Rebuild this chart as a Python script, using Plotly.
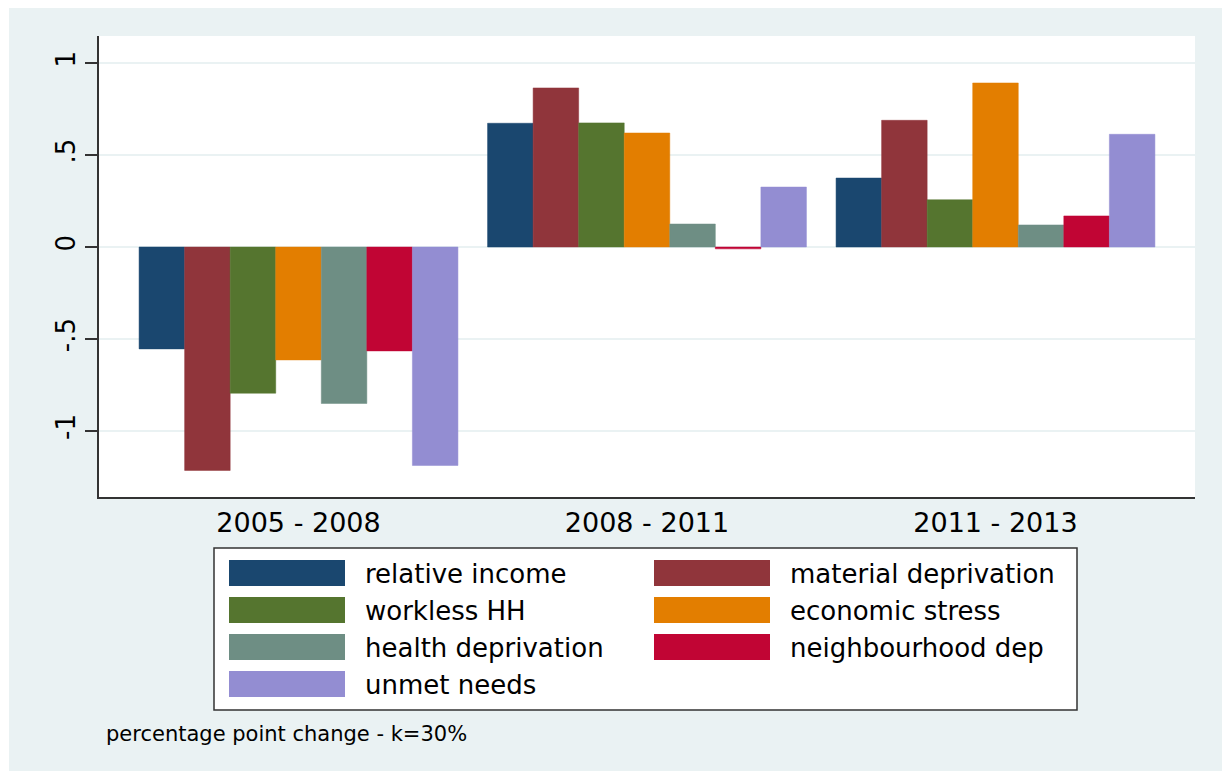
import plotly.graph_objects as go

##############################################
# Data
##############################################

periods = ["2005 - 2008", "2008 - 2011", "2011 - 2013"]

series_names = [
    "relative income",
    "material deprivation",
    "workless HH",
    "economic stress",
    "health deprivation",
    "neighbourhood dep",
    "unmet needs",
]

relative_income = [-0.554, 0.673, 0.375]
material_deprivation = [-1.215, 0.865, 0.689]
workless_hh = [-0.795, 0.675, 0.257]
economic_stress = [-0.614, 0.620, 0.892]
health_deprivation = [-0.851, 0.125, 0.120]
neighbourhood_dep = [-0.565, -0.010, 0.169]
unmet_needs = [-1.188, 0.326, 0.613]

series_values = [
    relative_income,
    material_deprivation,
    workless_hh,
    economic_stress,
    health_deprivation,
    neighbourhood_dep,
    unmet_needs,
]

y_tickvals = [-1, -0.5, 0, 0.5, 1]
y_ticktext = ["-1", "-.5", "0", ".5", "1"]

note_text = "percentage point change - k=30%"

##############################################
# Style
##############################################

colors = ["#1a476f", "#90353b", "#55752f", "#e37e00",
          "#6e8e84", "#c10534", "#938dd2"]

BG = "#eaf2f3"
AXIS = "#333333"
FONT = "DejaVu Sans"

W, H = 1222, 771
L, R, T, B = 99, 27, 36, 274
PW, PH = W - L - R, H - T - B


def px2x(px):
    return (px - L) / PW


def px2y(py):
    return 1 - (py - T) / PH


##############################################
# Figure
##############################################

fig = go.Figure()

for name, vals, col in zip(series_names, series_values, colors):
    fig.add_trace(
        go.Bar(
            x=periods,
            y=vals,
            name=name,
            marker=dict(color=col, line=dict(color=col, width=0.5)),
            showlegend=False,
        )
    )

shapes = []
annotations = []

# white strips at top and left of the image
shapes.append(dict(type="rect", xref="paper", yref="paper",
                   x0=px2x(0), x1=px2x(W), y0=px2y(0), y1=px2y(8),
                   fillcolor="white", line=dict(width=0), layer="below"))
shapes.append(dict(type="rect", xref="paper", yref="paper",
                   x0=px2x(0), x1=px2x(9), y0=px2y(0), y1=px2y(H),
                   fillcolor="white", line=dict(width=0), layer="below"))

# legend box
shapes.append(dict(type="rect", xref="paper", yref="paper",
                   x0=px2x(214), x1=px2x(1077), y0=px2y(548), y1=px2y(710),
                   fillcolor="white", line=dict(color=AXIS, width=1.5)))

col_swatch = [229, 654]
col_text = [363, 788]
row_top = [560, 597, 634, 671]
sw_w, sw_h = 116, 26

for i, (name, col) in enumerate(zip(series_names, colors)):
    r, c = divmod(i, 2)
    x0 = col_swatch[c]
    y0 = row_top[r]
    shapes.append(dict(type="rect", xref="paper", yref="paper",
                       x0=px2x(x0), x1=px2x(x0 + sw_w),
                       y0=px2y(y0), y1=px2y(y0 + sw_h),
                       fillcolor=col, line=dict(width=0)))
    annotations.append(dict(xref="paper", yref="paper",
                            x=px2x(col_text[c]), y=px2y(y0 + sw_h / 2 + 1),
                            xanchor="left", yanchor="middle",
                            text=name, showarrow=False,
                            font=dict(family=FONT, size=26, color="black")))

annotations.append(dict(xref="paper", yref="paper",
                        x=px2x(104), y=px2y(734),
                        xanchor="left", yanchor="middle",
                        text=note_text, showarrow=False,
                        font=dict(family=FONT, size=21, color="black")))

fig.update_layout(
    width=W,
    height=H,
    margin=dict(l=L, r=R, t=T, b=B, pad=0),
    paper_bgcolor=BG,
    plot_bgcolor="white",
    barmode="group",
    bargap=0.085,
    bargroupgap=0,
    showlegend=False,
    shapes=shapes,
    annotations=annotations,
    font=dict(family=FONT, color="black"),
)

fig.update_xaxes(
    type="category",
    range=[-0.5725, 2.5725],
    showline=True,
    linecolor=AXIS,
    linewidth=1.5,
    showgrid=False,
    ticks="",
    ticklabelstandoff=1,
    tickfont=dict(family=FONT, size=27, color="black"),
)

fig.update_yaxes(
    range=[-1.3595, 1.1475],
    tickvals=y_tickvals,
    ticktext=y_ticktext,
    tickangle=-90,
    showline=True,
    linecolor=AXIS,
    linewidth=1.5,
    ticks="outside",
    ticklen=12,
    tickwidth=1.5,
    tickcolor=AXIS,
    showgrid=True,
    gridcolor=BG,
    gridwidth=2,
    zeroline=False,
    tickfont=dict(family=FONT, size=26, color="black"),
)

# drop the page margin so the figure sits at the window corner
fig.write_html(
    "out.html",
    config={"displayModeBar": False},
    post_script=(
        "document.body.style.margin='0';"
        "document.body.style.overflow='hidden';"
        "document.body.style.background='" + BG + "';"
    ),
)
